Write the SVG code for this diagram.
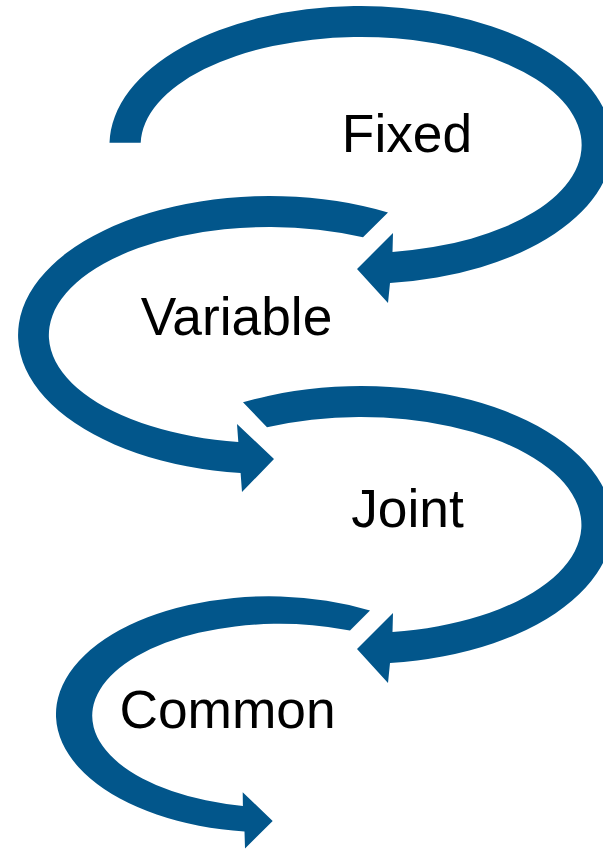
<svg xmlns="http://www.w3.org/2000/svg" width="603" height="849" viewBox="0 0 603 849">
<style>
.arrow{fill:#02568B;stroke:none}
.lbl{font-family:"Liberation Sans",Arial,sans-serif;font-size:53.3px;fill:#000;text-anchor:middle}
</style>
<rect width="603" height="849" fill="#fff"/>
<g id="connectors">
<path id="arrow-fixed" class="arrow" d="M 109.5 142.7 A 251.5 139 0 1 1 390 283.1 L 388 303 L 357 269 L 393 233 L 392.5 251.9 A 220.5 108 0 1 0 140.7 142.7 Z"/>
<path id="arrow-variable" class="arrow" d="M 388 212.4 A 251.5 139 0 1 0 240.6 473.1 L 242 492 L 274 459 L 237 424 L 238.3 441.9 A 220.5 108 0 1 1 363 237.2 Z"/>
<path id="arrow-joint" class="arrow" d="M 243 402.3 A 251.5 139 0 1 1 390 663.1 L 388 683 L 357 649 L 393 613 L 392.5 631.9 A 220.5 108 0 1 0 267 427.3 Z"/>
<path id="arrow-common" class="arrow" d="M 370 610.4 A 213 118 0 1 0 244.5 831.5 L 245 848.5 L 272.7 821 L 242.7 792.3 L 242.9 806 A 187.5 92 0 1 1 350 630.5 Z"/>
</g>
<g id="node-fixed"><text class="lbl" x="407" y="152">Fixed</text></g>
<g id="node-variable"><text class="lbl" x="236.5" y="335">Variable</text></g>
<g id="node-joint"><text class="lbl" x="407.5" y="527">Joint</text></g>
<g id="node-common"><text class="lbl" x="227.5" y="728">Common</text></g>
</svg>
